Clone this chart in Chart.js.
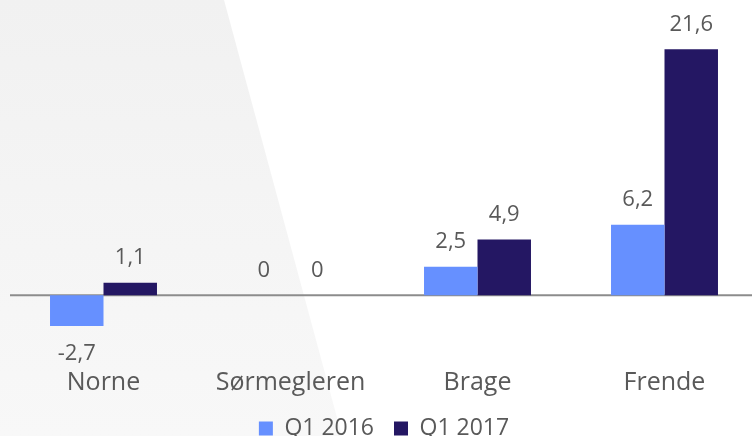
<!DOCTYPE html>
<html>
<head>
<meta charset="utf-8">
<script src="https://cdn.jsdelivr.net/npm/chart.js@4"></script>
<style>
  html, body { margin: 0; padding: 0; width: 752px; height: 436px; overflow: hidden; background: #fff; }
  #shade {
    position: absolute; left: 0; top: 0; width: 360px; height: 436px;
    background: linear-gradient(#f1f1f1, #f8f8f8);
    clip-path: polygon(0 0, 224px 0, 342px 436px, 0 436px);
  }
  #wrap { position: absolute; left: 0; top: 0; width: 758px; height: 436px; }
</style>
</head>
<body>
<div id="shade"></div>
<div id="wrap"><canvas id="chart"></canvas></div>
<script>
// Data
const categories = ['Norne', 'Sørmegleren', 'Brage', 'Frende'];
const q1_2016 = [-2.7, 0, 2.5, 6.2];
const q1_2017 = [1.1, 0, 4.9, 21.6];

const textColor = '#595959';

// Draw zero line + value labels (comma decimals)
const labelPlugin = {
    id: 'valueLabels',
    beforeDatasetsDraw(chart) {
        const ctx = chart.ctx;
        const y0 = chart.scales.y.getPixelForValue(0);
        ctx.save();
        ctx.strokeStyle = '#8c8c8c';
        ctx.lineWidth = 2;
        ctx.beginPath();
        ctx.moveTo(chart.chartArea.left, y0);
        ctx.lineTo(chart.chartArea.right, y0);
        ctx.stroke();
        ctx.restore();
    },
    afterDatasetsDraw(chart) {
        const ctx = chart.ctx;
        ctx.save();
        ctx.font = '22px "Open Sans"';
        ctx.fillStyle = textColor;
        ctx.textAlign = 'center';
        ctx.textBaseline = 'middle';
        chart.data.datasets.forEach((ds, i) => {
            const meta = chart.getDatasetMeta(i);
            meta.data.forEach((bar, j) => {
                const v = ds.data[j];
                const y = v < 0 ? bar.y + 28 : bar.y - 25;
                ctx.fillText(String(v).replace('.', ','), bar.x, y);
            });
        });
        ctx.restore();
    }
};

new Chart(document.getElementById('chart'), {
    type: 'bar',
    data: {
        labels: categories,
        datasets: [
            { label: 'Q1 2016', data: q1_2016, backgroundColor: '#6690ff' },
            { label: 'Q1 2017', data: q1_2017, backgroundColor: '#241763' }
        ]
    },
    options: {
        responsive: true,
        maintainAspectRatio: false,
        animation: false,
        layout: { padding: { left: 10, right: 0, top: 22, bottom: -14 } },
        datasets: { bar: { categoryPercentage: 0.572, barPercentage: 1 } },
        scales: {
            x: {
                grid: { display: false },
                border: { display: false },
                ticks: { color: textColor, font: { family: 'Open Sans', size: 25 }, padding: 22 },
                afterFit(scale) { scale.height -= 23; }
            },
            y: { display: false, min: -3.75, max: 24 }
        },
        plugins: {
            legend: {
                position: 'bottom',
                labels: {
                    color: textColor,
                    font: { family: 'Open Sans', size: 23 },
                    boxWidth: 14, boxHeight: 14,
                    padding: 20
                }
            },
            tooltip: { enabled: false }
        }
    },
    plugins: [labelPlugin]
});
</script>
</body>
</html>
